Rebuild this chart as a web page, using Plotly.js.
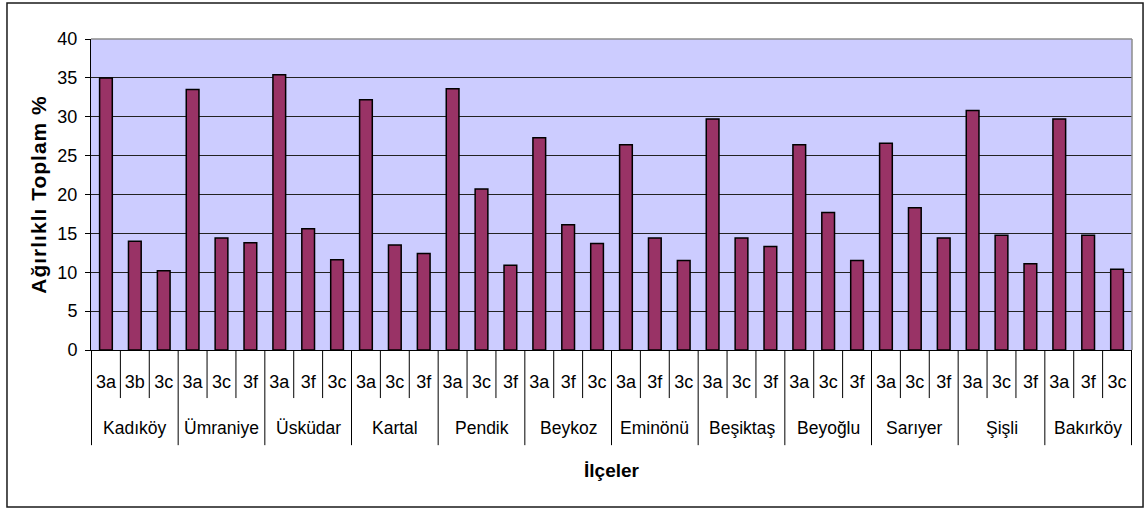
<!DOCTYPE html>
<html>
<head>
<meta charset="utf-8">
<script src="https://cdn.plot.ly/plotly-3.0.1.min.js"></script>
<style>
  html, body { margin: 0; padding: 0; background: #ffffff; }
  #chart { width: 1148px; height: 511px; }
  .g-ytitle text { letter-spacing: 1px; }
</style>
</head>
<body>
<div id="chart"></div>
<script>
// District groups (İlçeler)
const groups = ["Kadıköy", "Ümraniye", "Üsküdar", "Kartal", "Pendik", "Beykoz",
                "Eminönü", "Beşiktaş", "Beyoğlu", "Sarıyer", "Şişli", "Bakırköy"];
// Sub-category labels within each district
const subLabels = [
  ["3a", "3b", "3c"], ["3a", "3c", "3f"], ["3a", "3f", "3c"], ["3a", "3c", "3f"],
  ["3a", "3c", "3f"], ["3a", "3f", "3c"], ["3a", "3f", "3c"], ["3a", "3c", "3f"],
  ["3a", "3c", "3f"], ["3a", "3c", "3f"], ["3a", "3c", "3f"], ["3a", "3f", "3c"]
];
// Weighted total % values
const values = [
  [35.0, 14.0, 10.2], [33.5, 14.4, 13.8], [35.4, 15.6, 11.6], [32.2, 13.5, 12.4],
  [33.6, 20.7, 10.9], [27.3, 16.1, 13.7], [26.4, 14.4, 11.5], [29.7, 14.4, 13.3],
  [26.4, 17.7, 11.5], [26.6, 18.3, 14.4], [30.8, 14.75, 11.1], [29.7, 14.75, 10.4]
];
const yTicks = [0, 5, 10, 15, 20, 25, 30, 35, 40];
const yTitle = "Ağırlıklı Toplam %";
const xTitle = "İlçeler";

const FONT = "Liberation Sans, Arial, sans-serif";

const cats = [], subs = [], ys = [];
groups.forEach((g, gi) => {
  subLabels[gi].forEach((s, si) => {
    cats.push(g + " | " + s);
    subs.push(s);
    ys.push(values[gi][si]);
  });
});

const shapes = [];
const n = cats.length;
for (let i = 0; i <= n; i++) {
  const isGroup = (i % 3 === 0);
  shapes.push({
    type: "line", xref: "x", yref: "paper",
    x0: i - 0.5, x1: i - 0.5, y0: 0, y1: isGroup ? -0.306 : -0.1545,
    line: { color: "#000000", width: 1 }
  });
}
// gray plot-area border (top & right)
shapes.push({ type: "line", xref: "paper", yref: "paper", x0: 0, x1: 1, y0: 1, y1: 1,
  line: { color: "#8c8c8c", width: 1.5 }, layer: "above" });
shapes.push({ type: "line", xref: "paper", yref: "paper", x0: 1, x1: 1, y0: 0, y1: 1,
  line: { color: "#8c8c8c", width: 1.5 }, layer: "above" });
// outer chart border
shapes.push({ type: "rect", xref: "paper", yref: "paper",
  x0: -0.0807, x1: 1.0106, y0: -0.5048, y1: 1.1158,
  line: { color: "#1a1a1a", width: 1.5 }, fillcolor: "rgba(0,0,0,0)" });

const annotations = groups.map((g, gi) => ({
  xref: "x", yref: "paper", x: gi * 3 + 1, y: -0.251,
  text: g, showarrow: false, yanchor: "middle", xanchor: "center",
  font: { family: FONT, size: 17.5, color: "#000000" }
}));

const trace = {
  type: "bar",
  x: cats,
  y: ys,
  marker: { color: "#993366", line: { color: "#000000", width: 1.5 } },
  hoverinfo: "x+y"
};

const layout = {
  width: 1148, height: 511,
  margin: { l: 91, r: 16, t: 39, b: 161, pad: 0 },
  paper_bgcolor: "#ffffff",
  plot_bgcolor: "#ccccff",
  showlegend: false,
  bargap: 0.56,
  font: { family: FONT, color: "#000000" },
  xaxis: {
    type: "category",
    tickvals: cats, ticktext: subs,
    ticks: "", showgrid: false,
    showline: true, linecolor: "#000000", linewidth: 1,
    tickfont: { family: FONT, size: 18, color: "#000000" },
    ticklabelstandoff: 15,
    tickangle: 0,
    title: { text: xTitle, standoff: 73,
             font: { family: FONT, size: 19, color: "#000000", weight: "bold" } },
    automargin: false, fixedrange: true
  },
  yaxis: {
    range: [0, 40], tickvals: yTicks,
    ticks: "outside", ticklen: 5, tickcolor: "#000000", tickwidth: 1,
    showline: true, linecolor: "#000000", linewidth: 1,
    showgrid: true, gridcolor: "#222222", gridwidth: 1,
    zeroline: false,
    tickfont: { family: FONT, size: 18, color: "#000000" },
    ticklabelstandoff: 4,
    title: { text: yTitle, standoff: 5,
             font: { family: FONT, size: 21, color: "#000000", weight: "bold" } },
    automargin: false, fixedrange: true
  },
  shapes: shapes,
  annotations: annotations
};

Plotly.newPlot("chart", [trace], layout, { displayModeBar: false, staticPlot: true });
</script>
</body>
</html>
